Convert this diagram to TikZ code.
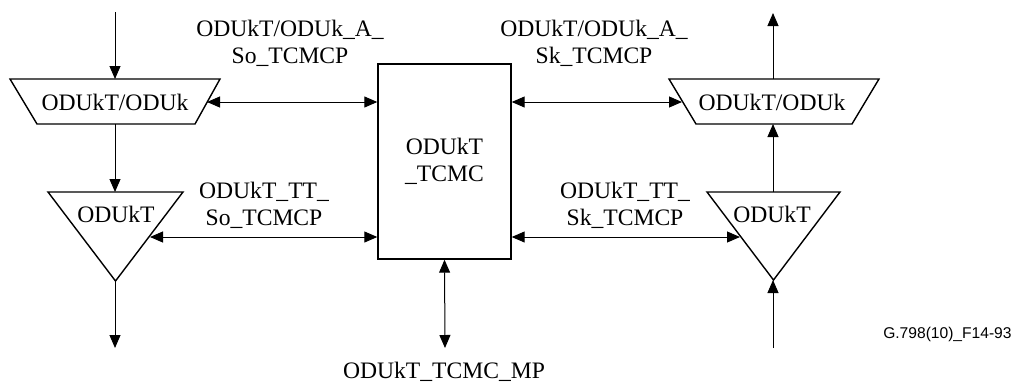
\documentclass[tikz,border=0pt]{standalone}
\usepackage{fontspec}
\setmainfont{Liberation Serif}
\newfontfamily\idfont{Liberation Sans}
\usetikzlibrary{arrows.meta}
\begin{document}
\begin{tikzpicture}[x=0.5pt,y=-0.5pt,
  shapeline/.style={draw=black, line width=0.7pt, line join=miter},
  conn/.style={draw=black, line width=0.5pt, -{Triangle[length=6.5pt,width=5.5pt]}},
  biconn/.style={draw=black, line width=0.5pt, {Triangle[length=6.5pt,width=5.5pt]}-{Triangle[length=6.5pt,width=5.5pt]}},
  lbl/.style={inner sep=0pt, align=center, font=\fontsize{11.8}{13.3}\selectfont},
  boxstyle/.style={draw=black, line width=0.7pt, inner sep=0pt, align=center,
    minimum width=66.5pt, minimum height=97.5pt, font=\fontsize{11.8}{13.5}\selectfont}]
\useasboundingbox (0,0) rectangle (1018,381);

% ---- left column shapes
\draw[shapeline] (10,79) -- (220,79) -- (195,124) -- (37,124) -- cycle;
\node[lbl, anchor=base] (ltrap) at (115,110) {ODUkT/ODUk};
\draw[shapeline] (48,192) -- (183,192) -- (115.5,281) -- cycle;
\node[lbl, anchor=base] (ltri) at (116,222) {ODUkT};

% ---- right column shapes
\draw[shapeline] (669,79) -- (879,79) -- (852,124) -- (696,124) -- cycle;
\node[lbl, anchor=base] (rtrap) at (772,110) {ODUkT/ODUk};
\draw[shapeline] (707,192) -- (840,192) -- (773.5,280) -- cycle;
\node[lbl, anchor=base] (rtri) at (772,222) {ODUkT};

% ---- central box
\node[boxstyle] (box) at (444.5,161.5) {ODUkT\\\_TCMC};

% ---- connection points
\coordinate (inL) at (115,12);
\coordinate (ltrapT) at (115,79);
\coordinate (ltrapB) at (115,124);
\coordinate (ltriT) at (115,192);
\coordinate (ltriA) at (115,281);
\coordinate (outL) at (115,348);
\coordinate (ltrapR) at (207,102);
\coordinate (ltriR) at (150,237);

\coordinate (outR) at (773,13);
\coordinate (rtrapT) at (773,79);
\coordinate (rtrapB) at (773,124);
\coordinate (rtriT) at (773,192);
\coordinate (rtriA) at (773,280);
\coordinate (inR) at (773,348);
\coordinate (rtrapL) at (682,102);
\coordinate (rtriL) at (740,237);

\coordinate (mp) at (445,348);

% ---- connectors
\draw[conn] (inL) -- (ltrapT);
\draw[conn] (ltrapB) -- (ltriT);
\draw[conn] (ltriA) -- (outL);
\draw[biconn] (ltrapR) -- (ltrapR -| box.west);
\draw[biconn] (ltriR) -- (ltriR -| box.west);

\draw[conn] (rtrapT) -- (outR);
\draw[conn] (rtriT) -- (rtrapB);
\draw[conn] (inR) -- (rtriA);
\draw[biconn] (rtrapL -| box.east) -- (rtrapL);
\draw[biconn] (rtriL -| box.east) -- (rtriL);

\draw[biconn] (box.south) -- (mp);

% ---- labels (anchor base = baseline of the last line)
\node[lbl, anchor=base] (lblA) at (290,63) {ODUkT/ODUk\_A\_\\So\_TCMCP};
\node[lbl, anchor=base] (lblB) at (594,63) {ODUkT/ODUk\_A\_\\Sk\_TCMCP};
\node[lbl, anchor=base] (lblC) at (264,225) {ODUkT\_TT\_\\So\_TCMCP};
\node[lbl, anchor=base] (lblD) at (625,225) {ODUkT\_TT\_\\Sk\_TCMCP};
\node[lbl, anchor=base] (lblE) at (444,378) {ODUkT\_TCMC\_MP};
\node[inner sep=0pt, anchor=base east, font=\idfont\fontsize{7.8}{9}\selectfont] (figid) at (1012,338) {G.798(10)\_F14-93};
\end{tikzpicture}
\end{document}
